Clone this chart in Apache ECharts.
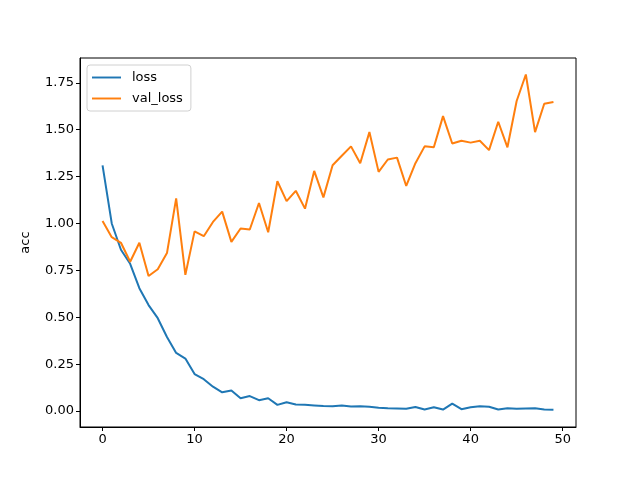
<!DOCTYPE html>
<html>
<head>
<meta charset="utf-8">
<script src="https://cdn.jsdelivr.net/npm/echarts@6/dist/echarts.min.js"></script>
<style>
  html, body { margin: 0; padding: 0; background: #fff; }
  #chart { width: 640px; height: 480px; }
</style>
</head>
<body>
<div id="chart"></div>
<script>
// epochs 0..49
var epochs = [];
for (var e = 0; e < 50; e++) epochs.push(e);

var loss = [1.31, 1.00, 0.86, 0.785, 0.655, 0.565, 0.495, 0.395, 0.31, 0.28,
            0.197, 0.17, 0.13, 0.10, 0.11, 0.068, 0.08, 0.058, 0.068, 0.033,
            0.047, 0.035, 0.033, 0.030, 0.027, 0.025, 0.030, 0.024, 0.025, 0.023,
            0.018, 0.015, 0.014, 0.012, 0.022, 0.008, 0.020, 0.008, 0.040, 0.010,
            0.020, 0.025, 0.023, 0.008, 0.015, 0.012, 0.014, 0.015, 0.008, 0.007];

var valLoss = [1.013, 0.927, 0.897, 0.796, 0.897, 0.72, 0.756, 0.842, 1.134, 0.726,
               0.958, 0.932, 1.008, 1.063, 0.902, 0.973, 0.968, 1.109, 0.953, 1.225,
               1.119, 1.174, 1.079, 1.28, 1.139, 1.31, 1.361, 1.411, 1.321, 1.487,
               1.275, 1.341, 1.351, 1.20, 1.321, 1.411, 1.406, 1.572, 1.426, 1.441,
               1.431, 1.441, 1.391, 1.542, 1.406, 1.653, 1.794, 1.487, 1.638, 1.648];

var xTicks = [0, 10, 20, 30, 40, 50];
var yTicks = [0, 0.25, 0.5, 0.75, 1.0, 1.25, 1.5, 1.75];

function pairs(ys){
    var out = [];
    for (var i = 0; i < ys.length; i++) out.push([epochs[i], ys[i]]);
    return out;
}

var chart = echarts.init(document.getElementById("chart"));
var font = "DejaVu Sans";
var option = {
    "animation": false,
    "textStyle": {"fontFamily": font},
    "grid": {
        "left": 80, "right": 64, "top": 58, "bottom": 53,
        "show": true, "borderColor": "#000", "borderWidth": 1
    },
    "legend": {
        "orient": "vertical",
        "left": 87, "top": 65,
        "data": ["loss", "val_loss"],
        "icon": "path://M0,0 L30,0 L30,2 L0,2 Z",
        "itemWidth": 29, "itemHeight": 2,
        "itemGap": 8,
        "padding": [6, 8, 6, 5],
        "borderColor": "#d0d0d0", "borderWidth": 1, "borderRadius": 3,
        "backgroundColor": "rgba(255,255,255,0.8)",
        "textStyle": {"fontFamily": font, "fontSize": 13, "color": "#000", "padding": [0, 0, 0, 6]}
    },
    "xAxis": {
        "type": "value",
        "min": -2.45, "max": 51.45,
        "splitLine": {"show": false},
        "axisLine": {"show": true, "onZero": false, "lineStyle": {"color": "#000"}},
        "axisTick": {"show": true, "length": 4, "customValues": xTicks, "lineStyle": {"color": "#000"}},
        "axisLabel": {"customValues": xTicks, "fontSize": 13, "color": "#000", "margin": 6, "fontFamily": font}
    },
    "yAxis": {
        "type": "value",
        "min": -0.085, "max": 1.882,
        "name": "acc",
        "nameLocation": "middle",
        "nameGap": 48,
        "nameTextStyle": {"fontSize": 13, "color": "#000", "fontFamily": font},
        "splitLine": {"show": false},
        "axisLine": {"show": true, "onZero": false, "lineStyle": {"color": "#000"}},
        "axisTick": {"show": true, "length": 4, "customValues": yTicks, "lineStyle": {"color": "#000"}},
        "axisLabel": {
            "customValues": yTicks, "fontSize": 13, "color": "#000", "margin": 6, "fontFamily": font,
            "formatter": function(v){ return v.toFixed(2); }
        }
    },
    "series": [
        {
            "name": "loss", "type": "line", "data": pairs(loss),
            "showSymbol": false, "color": "#1f77b4",
            "lineStyle": {"width": 2, "color": "#1f77b4"}
        },
        {
            "name": "val_loss", "type": "line", "data": pairs(valLoss),
            "showSymbol": false, "color": "#ff7f0e",
            "lineStyle": {"width": 2, "color": "#ff7f0e"}
        }
    ]
};
if( option && option.series ){
    chart.setOption(option);
}
</script>
</body>
</html>
